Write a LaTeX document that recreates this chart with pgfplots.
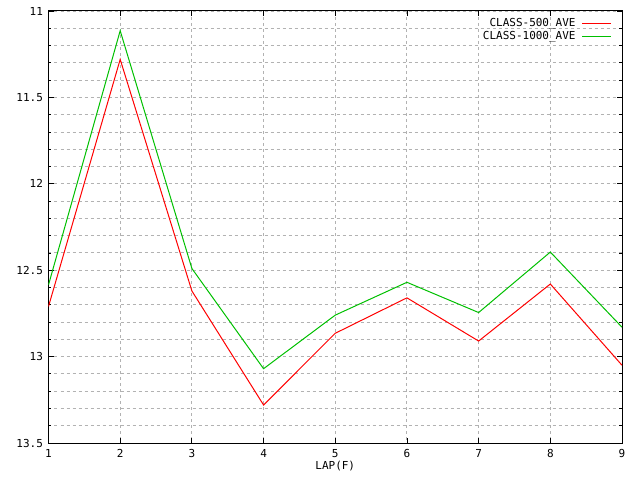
\documentclass[border=0pt]{standalone}
\usepackage{fontspec}
\setmainfont{DejaVu Sans Mono}
\usepackage{pgfplots}
\pgfplotsset{compat=1.18}
\definecolor{gpgreen}{RGB}{0,192,0}
\definecolor{gpred}{RGB}{255,0,0}
\begin{document}
\begin{tikzpicture}[x=1bp,y=1bp]
\useasboundingbox (-48.5,-37) rectangle (591.5,443);
\begin{axis}[
  at={(0,0)}, anchor=south west,
  scale only axis, width=573.5bp, height=432bp,
  xmin=1, xmax=9, ymin=11, ymax=13.5,
  y dir=reverse,
  xtick={1,2,...,9},
  ytick={11,11.5,12,12.5,13,13.5},
  minor ytick={11.1,11.2,11.3,11.4,11.6,11.7,11.8,11.9,12.1,12.2,12.3,12.4,12.6,12.7,12.8,12.9,13.1,13.2,13.3,13.4},
  yticklabels={11,11.5,12,12.5,13,13.5},
  xmajorgrids, ymajorgrids, yminorgrids,
  grid style={draw=black!30, line width=0.9bp, dash pattern=on 3bp off 3bp},
  minor grid style={draw=black!30, line width=0.9bp, dash pattern=on 3bp off 3bp},
  tick align=inside, tick pos=both,
  major tick length=5bp, minor tick length=3bp,
  tick style={black, line width=0.8bp},
  axis line style={line width=1bp},
  ticklabel style={font=\fontsize{11bp}{13bp}\selectfont},
  /pgf/number format/assume math mode=true,
  xticklabel style={yshift=-3bp},
  yticklabel style={xshift=-2bp},
  xlabel={LAP(F)},
  xlabel style={font=\fontsize{11bp}{13bp}\selectfont, yshift=4bp},
  legend style={draw=none, fill=none, at={(1,1)}, anchor=north east,
    xshift=-10bp, yshift=-5.5bp, inner sep=0pt,
    font=\fontsize{11bp}{13bp}\selectfont, row sep=-1bp},
  legend cell align=right,
  legend plot pos=right,
]
\addplot[gpred, line width=1bp, forget plot] coordinates {
(1,12.71) (2,11.28) (3,12.62) (4,13.28) (5,12.865) (6,12.66) (7,12.91) (8,12.58) (9,13.05)};
\addplot[gpgreen, line width=1bp, forget plot] coordinates {
(1,12.585) (2,11.114) (3,12.49) (4,13.07) (5,12.76) (6,12.57) (7,12.745) (8,12.395) (9,12.83)};
\addlegendimage{gpred, line width=1.2bp,
  legend image code/.code={\path (0bp,0bp); \draw[draw=gpred, line width=1.2bp, solid] (4bp,0bp) -- (33bp,0bp);}}
\addlegendentry{CLASS-500\_AVE}
\addlegendimage{gpgreen, line width=1.2bp,
  legend image code/.code={\path (0bp,0bp); \draw[draw=gpgreen, line width=1.2bp, solid] (4bp,0bp) -- (33bp,0bp);}}
\addlegendentry{CLASS-1000\_AVE}
\end{axis}
\end{tikzpicture}
\end{document}
